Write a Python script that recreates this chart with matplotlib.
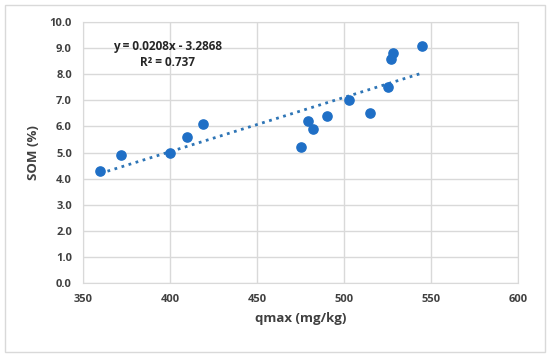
import numpy as np
import matplotlib.pyplot as plt
from matplotlib.patches import Rectangle

# data
qmax = [360, 372, 400, 410, 419, 475, 479, 482, 490, 503, 515, 525, 527, 528, 545]
som = [4.3, 4.9, 5.0, 5.6, 6.1, 5.2, 6.2, 5.9, 6.4, 7.0, 6.5, 7.5, 8.6, 8.8, 9.1]
slope = 0.0208
intercept = -3.2868
r2 = 0.737
xticks = [350, 400, 450, 500, 550, 600]
yticks = [0, 1, 2, 3, 4, 5, 6, 7, 8, 9, 10]

plt.rcParams['font.family'] = ['Open Sans', 'DejaVu Sans']

fig = plt.figure(figsize=(5.5, 3.56), dpi=100)
ax = fig.add_axes([0.151, 0.205, 0.791, 0.733])

# outer frame
fig.patches.append(Rectangle((0.009, 0.011), 0.982, 0.975, transform=fig.transFigure,
                             fill=False, edgecolor='#d9d9d9', linewidth=1))

ax.scatter(qmax, som, s=44, color='#1f6fc6', zorder=3)
xs = np.array([min(qmax), max(qmax)])
ax.plot(xs, slope * xs + intercept, ':', color='#2e75b6', linewidth=2, zorder=2)

ax.set_xlim(350, 600)
ax.set_ylim(0, 10)
ax.set_xticks(xticks)
ax.set_yticks(yticks)
ax.set_xticklabels([str(v) for v in xticks], fontsize=8, fontweight='bold', color='#404040')
ax.set_yticklabels([f'{v:.1f}' for v in yticks], fontsize=8, fontweight='bold', color='#404040')
ax.tick_params(length=0, pad=8)
ax.grid(True, color='#d9d9d9', linewidth=1)
ax.set_axisbelow(True)
for s in ax.spines.values():
    s.set_color('#d9d9d9')

ax.set_xlabel('qmax (mg/kg)', fontsize=9.5, fontweight='bold', color='#404040', labelpad=5)
ax.set_ylabel('SOM (%)', fontsize=9.5, fontweight='bold', color='#404040', labelpad=7)

ax.text(0.195, 0.877, f'y = {slope}x - {abs(intercept)}\nR² = {r2}', transform=ax.transAxes,
        ha='center', va='center', multialignment='center', fontsize=8.5,
        fontweight='bold', color='#262626', linespacing=1.3)

fig.savefig('out.png', dpi=100)
